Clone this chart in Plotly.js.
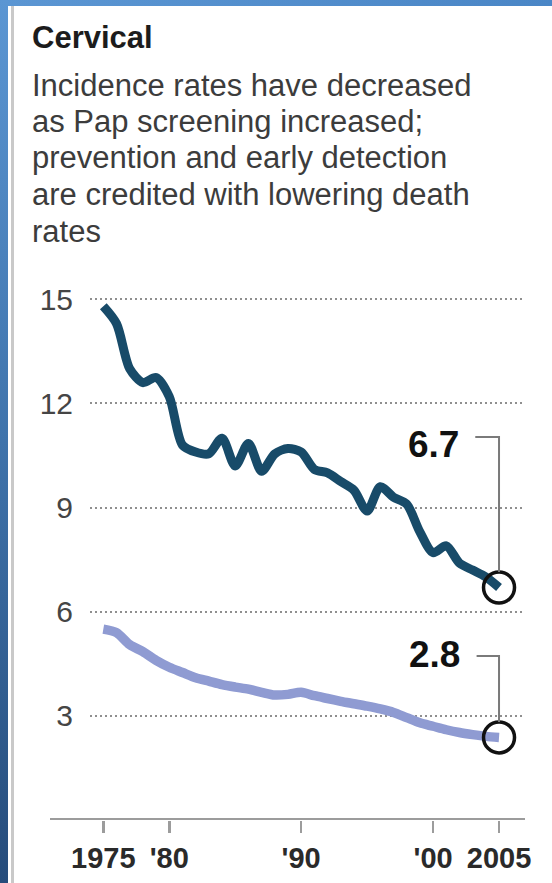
<!DOCTYPE html>
<html>
<head>
<meta charset="utf-8">
<script src="https://cdn.plot.ly/plotly-3.0.1.min.js"></script>
<style>
  html, body { margin: 0; padding: 0; background: #ffffff; }
  #wrap { position: relative; width: 552px; height: 883px; overflow: hidden; background: #ffffff; }
  #topbar { position: absolute; left: 0; top: 0; width: 552px; height: 6px;
            background: linear-gradient(to right, #5b96d3, #4a86c6); }
  #leftbar { position: absolute; left: 0; top: 0; width: 8px; height: 883px;
             background: linear-gradient(to bottom, #5b96d3, #3f73ab 50%, #264c7b); }
  #rule { position: absolute; left: 11px; top: 6px; width: 3px; height: 877px; background: #c9c9c9; }
  #chart { position: absolute; left: 0; top: 0; width: 552px; height: 883px; }
</style>
</head>
<body>
<div id="wrap">
  <div id="topbar"></div>
  <div id="leftbar"></div>
  <div id="rule"></div>
  <div id="chart"></div>
</div>
<script>
// ---- data ----
const years = [1975,1976,1977,1978,1979,1980,1981,1982,1983,1984,1985,1986,1987,1988,1989,1990,
               1991,1992,1993,1994,1995,1996,1997,1998,1999,2000,2001,2002,2003,2004,2005];
const incidence = [14.8,14.3,13.0,12.6,12.75,12.2,10.8,10.6,10.55,11.0,10.2,10.85,10.05,10.55,10.7,10.6,
                   10.1,10.0,9.75,9.5,8.9,9.6,9.3,9.1,8.3,7.7,7.9,7.4,7.2,7.0,6.7];
const mortality = [5.5,5.4,5.05,4.85,4.6,4.4,4.25,4.1,4.0,3.9,3.83,3.77,3.68,3.6,3.62,3.68,
                   3.58,3.5,3.42,3.35,3.28,3.2,3.1,2.95,2.8,2.7,2.6,2.52,2.46,2.41,2.38];
const endLabels = ["6.7", "2.8"];
const xTickVals = [1975, 1980, 1990, 2000, 2005];
const xTickText = ["1975", "'80", "'90", "'00", "2005"];
const yTickVals = [3, 6, 9, 12, 15];
const titleText = "Cervical";
const bodyLines = [
  "Incidence rates have decreased",
  "as Pap screening increased;",
  "prevention and early detection",
  "are credited with lowering death",
  "rates"
];

// ---- layout helpers (pixel -> paper) ----
const M = {l: 90, r: 27, t: 280, b: 63};
const W = 552, H = 883;
const PW = W - M.l - M.r, PH = H - M.t - M.b;
const px = X => (X - M.l) / PW;
const py = Y => (H - M.b - Y) / PH;

const lastYear = years[years.length - 1];
const incEnd = incidence[incidence.length - 1];
const morEnd = mortality[mortality.length - 1];

const traces = [
  {x: years, y: mortality, type: 'scatter', mode: 'lines',
   line: {color: '#8f9bd2', width: 9.5, shape: 'spline', smoothing: 0.8}, hoverinfo: 'skip'},
  {x: years, y: incidence, type: 'scatter', mode: 'lines',
   line: {color: '#184b69', width: 9, shape: 'spline', smoothing: 0.8}, hoverinfo: 'skip'},
  {x: [lastYear, lastYear], y: [incEnd, morEnd], type: 'scatter', mode: 'markers',
   marker: {symbol: 'circle-open', size: 31, color: '#111111', line: {width: 3.5, color: '#111111'}},
   hoverinfo: 'skip'}
];

const annotations = [];
annotations.push({xref: 'paper', yref: 'paper', x: px(31.5), y: py(37), xanchor: 'left', yanchor: 'middle',
  text: '<b>' + titleText + '</b>', showarrow: false, borderpad: 0, borderwidth: 0,
  font: {family: 'Liberation Sans, Arial, sans-serif', size: 31, color: '#1c1c1c'}});
const baselines = [96, 131.7, 167.5, 204.5, 241.5];
bodyLines.forEach((t, i) => {
  annotations.push({xref: 'paper', yref: 'paper', x: px(32), y: py(baselines[i] - 10.2),
    xanchor: 'left', yanchor: 'middle', text: t, showarrow: false, borderpad: 0, borderwidth: 0,
    font: {family: 'Liberation Sans, Arial, sans-serif', size: 31, color: '#3c3c3c'}});
});
// end value labels
annotations.push({xref: 'x', yref: 'paper', x: 2000.0, y: py(444), xanchor: 'center', yanchor: 'middle',
  text: '<b>' + endLabels[0] + '</b>', showarrow: false, borderpad: 0, borderwidth: 0,
  font: {family: 'Liberation Sans, Arial, sans-serif', size: 37, color: '#111111'}});
annotations.push({xref: 'x', yref: 'paper', x: 2000.1, y: py(654), xanchor: 'center', yanchor: 'middle',
  text: '<b>' + endLabels[1] + '</b>', showarrow: false, borderpad: 0, borderwidth: 0,
  font: {family: 'Liberation Sans, Arial, sans-serif', size: 37, color: '#111111'}});

const pxPerUnit = PH / 15.557;
const shapes = [
  // x axis baseline extending left of the plot area
  {type: 'line', xref: 'paper', yref: 'y', x0: px(50), x1: 1, y0: 0, y1: 0,
   line: {color: '#9c9c9c', width: 4}},
  // leader lines
  {type: 'path', xref: 'x', yref: 'paper',
   path: 'M 2003.2,' + py(437) + ' H ' + lastYear + ' V ' + py(820 - incEnd * pxPerUnit - 15.5),
   line: {color: '#7a7a7a', width: 2}},
  {type: 'path', xref: 'x', yref: 'paper',
   path: 'M 2003.3,' + py(656) + ' H ' + lastYear + ' V ' + py(820 - morEnd * pxPerUnit - 15.5),
   line: {color: '#7a7a7a', width: 2}}
];

const layout = {
  width: W, height: H, margin: M,
  paper_bgcolor: 'rgba(0,0,0,0)', plot_bgcolor: 'rgba(0,0,0,0)',
  showlegend: false,
  xaxis: {range: [1973.99, 2006.97], tickvals: xTickVals, ticktext: xTickText,
          ticks: 'outside', ticklen: 12, tickwidth: 2.5, tickcolor: '#9c9c9c',
          showgrid: false, zeroline: false, showline: false, fixedrange: true,
          tickfont: {family: 'Liberation Sans, Arial, sans-serif', size: 29, weight: 'bold', color: '#2a2a2a'}},
  yaxis: {range: [0, 15.557], tickvals: yTickVals, ticks: '',
          showgrid: true, gridcolor: '#8f8f8f', gridwidth: 2, griddash: '2px,3px',
          zeroline: false, showline: false, fixedrange: true, ticklabelstandoff: 16,
          tickfont: {family: 'Liberation Sans, Arial, sans-serif', size: 30, color: '#454545'}},
  annotations: annotations,
  shapes: shapes
};

Plotly.newPlot('chart', traces, layout, {displayModeBar: false, staticPlot: true});
</script>
</body>
</html>
